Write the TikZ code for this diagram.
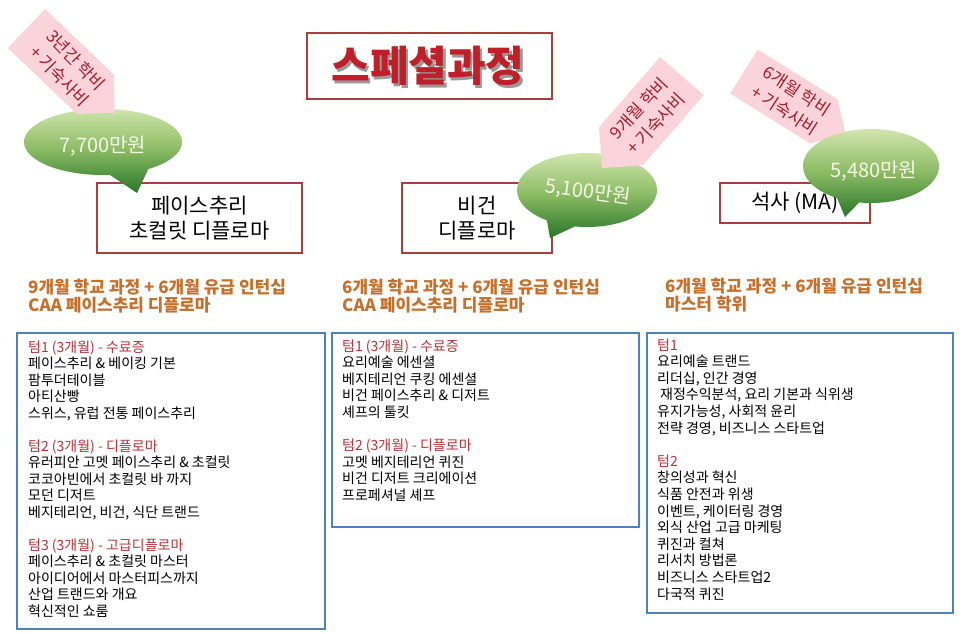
\documentclass[tikz,border=0pt]{standalone}
\usepackage{fontspec}
\setmainfont{Noto Sans CJK KR}
\usetikzlibrary{calc,backgrounds}
\definecolor{boxred}{RGB}{168,62,62}
\definecolor{boxblue}{RGB}{79,129,189}
\definecolor{connc}{RGB}{175,175,175}
\definecolor{pinkc}{RGB}{250,212,218}
\definecolor{arrtext}{RGB}{165,30,45}
\definecolor{bubtop}{RGB}{214,232,180}
\definecolor{bubmid}{RGB}{140,188,100}
\definecolor{bubbot}{RGB}{40,118,40}
\definecolor{headorange}{RGB}{200,110,40}
\definecolor{termred}{RGB}{190,50,55}
\definecolor{titlered}{RGB}{192,30,40}
\definecolor{bubtext}{RGB}{246,246,232}
\begin{document}
\begin{tikzpicture}[x=1pt, y=-1pt,
  redbox/.style={draw=boxred, line width=2.5pt, fill=white, inner sep=0pt, align=center},
  bluebox/.style={draw=boxblue, line width=2.5pt, fill=white, inner sep=0pt},
  conn/.style={draw=connc, line width=1.5pt},
  boxtitle/.style={font=\fontsize{21}{25}\selectfont},
  heading/.style={anchor=base west, inner sep=0pt, text=headorange, font=\bfseries\fontsize{17}{18}\selectfont},
  itemline/.style={anchor=base west, inner sep=0pt, font=\fontsize{14}{16}\selectfont},
  arrowtext/.style={text=arrtext, align=center, inner sep=0pt, font=\fontsize{17}{23}\selectfont},
  bubtextst/.style={text=bubtext, inner sep=0pt, font=\fontsize{20}{22}\selectfont},
  pinkarrow/.style={fill=pinkc},
  bubble/.style={top color=bubtop, bottom color=bubbot, middle color=bubmid}
]
\useasboundingbox (0,0) rectangle (966,634);
\fill[white] (0,0) rectangle (966,634);

% title
\node[redbox, minimum width=245, minimum height=66] (title) at (429.5,66) {};
\node[inner sep=0pt, text=black!40, font=\bfseries\fontsize{42}{44}\selectfont] (titleshadow) at (430.5,68.5) {스페셜과정};
\node[inner sep=0pt, text=titlered, font=\bfseries\fontsize{42}{44}\selectfont] (titletext) at (428,66) {스페셜과정};

% programme boxes
\node[redbox, boxtitle, minimum width=205, minimum height=70] (b1) at (199.5,218) {페이스추리\\초컬릿 디플로마};
\node[redbox, boxtitle, minimum width=150, minimum height=70] (b2) at (477,218) {비건\\디플로마};
\node[redbox, boxtitle, minimum width=150, minimum height=40] (b3) at (795,203) {석사 (MA)};

% connectors
\coordinate (j0) at (450,160);
\coordinate (jl) at (180,160);
\coordinate (jr) at (778,160);
\begin{scope}[on background layer]
\draw[conn] (title.south) -- (j0) -- (b2.north);
\draw[conn] (jl) -- (jr);
\draw[conn] (jl) -- ($(b1.north west)!0.34!(b1.north east)$);
\draw[conn] (jr) -- ($(b3.north west)!0.513!(b3.north east)$);
\end{scope}

% arrow 3 (behind bubble 3)
\begin{scope}[shift={(744,71.5)}, rotate=-32]
\fill[pinkarrow] (0,-26) -- (94,-26) -- (120,0) -- (94,26) -- (0,26) -- cycle;
\node[arrowtext, rotate=-33] (a3t) at (55,0) {6개월 학비\\+ 기숙사비};
\end{scope}

% bubbles
\path[bubble] ($(103,142)+(55:79 and 33)$) arc[start angle=55, end angle=-275, x radius=79, y radius=33] -- (137,193) -- cycle;
\node[bubtextst] (bub1) at (103,146) {7,700만원};
\path[bubble] ($(587,190)+(100:70 and 37)$) arc[start angle=100, end angle=-235, x radius=70, y radius=37] -- (550,238) -- cycle;
\node[bubtextst, rotate=-8] (bub2) at (588,192) {5,100만원};
\path[bubble] ($(871,166)+(100:68 and 37)$) arc[start angle=100, end angle=-240, x radius=68, y radius=37] -- (845,217) -- cycle;
\node[bubtextst] (bub3) at (874,171) {5,480만원};

% arrow 1
\begin{scope}[shift={(26.5,28.5)}, rotate=-43.7]
\fill[pinkarrow] (0,-27) -- (95,-27) -- (122,0) -- (95,27) -- (0,27) -- cycle;
\node[arrowtext, rotate=-46] (a1t) at (57,0) {3년간 학비\\+ 기숙사비};
\end{scope}

% arrow 2
\begin{scope}[shift={(682,76)}, rotate=-131]
\fill[pinkarrow] (0,-29) -- (93,-29) -- (122,0) -- (93,29) -- (0,29) -- cycle;
\node[arrowtext, rotate=47] (a2t) at (53,0) {9개월 학비\\+ 기숙사비};
\end{scope}

% headings
\node[heading] (h1a) at (28,293) {9개월 학교 과정 + 6개월 유급 인턴십};
\node[heading] (h1b) at (28,311) {CAA 페이스추리 디플로마};
\node[heading] (h2a) at (342,293) {6개월 학교 과정 + 6개월 유급 인턴십};
\node[heading] (h2b) at (342,311) {CAA 페이스추리 디플로마};
\node[heading] (h3a) at (665,292) {6개월 학교 과정 + 6개월 유급 인턴십};
\node[heading] (h3b) at (665,310) {마스터 학위};

% curriculum boxes
\node[bluebox, minimum width=308, minimum height=296] (tb1) at (171,481) {};
\node[bluebox, minimum width=307, minimum height=194] (tb2) at (485.5,430) {};
\node[bluebox, minimum width=306, minimum height=280] (tb3) at (800,473) {};

% box 1 text
\foreach \t [count=\i from 0] in {{\textcolor{termred}{텀1 (3개월) - 수료증}}, {페이스추리 \& 베이킹 기본}, {팜투더테이블}, {아티산빵}, {스위스, 유럽 전통 페이스추리}}
  \node[itemline] (ta\i) at (28,{352+16.5*\i}) {\t};
\foreach \t [count=\i from 6] in {{\textcolor{termred}{텀2 (3개월) - 디플로마}}, {유러피안 고멧 페이스추리 \& 초컬릿}, {코코아빈에서 초컬릿 바 까지}, {모던 디저트}, {베지테리언, 비건, 식단 트랜드}}
  \node[itemline] (ta\i) at (28,{352+16.5*\i}) {\t};
\foreach \t [count=\i from 12] in {{\textcolor{termred}{텀3 (3개월) - 고급디플로마}}, {페이스추리 \& 초컬릿 마스터}, {아이디어에서 마스터피스까지}, {산업 트랜드와 개요}, {혁신적인 쇼룸}}
  \node[itemline] (ta\i) at (28,{352+16.5*\i}) {\t};

% box 2 text
\foreach \t [count=\i from 0] in {{\textcolor{termred}{텀1 (3개월) - 수료증}}, {요리예술 에센셜}, {베지테리언 쿠킹 에센셜}, {비건 페이스추리 \& 디저트}, {셰프의 툴킷}}
  \node[itemline] (tbx\i) at (342,{351+16.6*\i}) {\t};
\foreach \t [count=\i from 6] in {{\textcolor{termred}{텀2 (3개월) - 디플로마}}, {고멧 베지테리언 퀴진}, {비건 디저트 크리에이션}, {프로페셔널 셰프}}
  \node[itemline] (tbx\i) at (342,{351+16.6*\i}) {\t};

% box 3 text
\foreach \t [count=\i from 0] in {{\textcolor{termred}{텀1}}, {요리예술 트랜드}, {리더십, 인간 경영}, {\hspace{3pt}재정수익분석, 요리 기본과 식위생}, {유지가능성, 사회적 윤리}, {전략 경영, 비즈니스 스타트업}}
  \node[itemline] (tc\i) at (657,{350+16.6*\i}) {\t};
\foreach \t [count=\i from 7] in {{\textcolor{termred}{텀2}}, {창의성과 혁신}, {식품 안전과 위생}, {이벤트, 케이터링 경영}, {외식 산업 고급 마케팅}, {퀴진과 컬쳐}, {리서치 방법론}, {비즈니스 스타트업2}, {다국적 퀴진}}
  \node[itemline] (tc\i) at (657,{350+16.6*\i}) {\t};
\end{tikzpicture}
\end{document}
